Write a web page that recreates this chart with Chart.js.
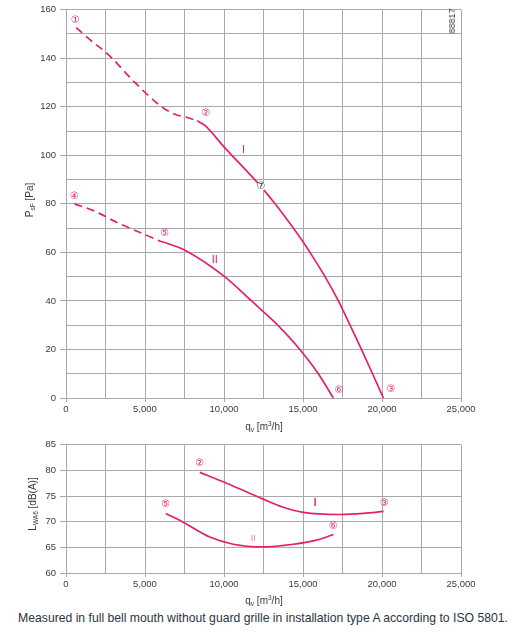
<!DOCTYPE html>
<html>
<head>
<meta charset="utf-8">
<script src="https://cdn.jsdelivr.net/npm/chart.js@4.4.1/dist/chart.umd.min.js"></script>
<style>
  html, body { margin: 0; padding: 0; background: #fff; }
  body { width: 526px; height: 633px; position: relative; overflow: hidden; font-family: "Liberation Sans", Arial, sans-serif; }
  canvas { position: absolute; left: 0; }
  .t { position: absolute; color: #3a3a3a; font-size: 10px; white-space: nowrap; transform: translate(-50%, -50%); }
  .rot { transform: translate(-50%, -50%) rotate(-90deg); }
  sub { font-size: 6.5px; vertical-align: -2px; }
  sup { font-size: 6.5px; vertical-align: 4px; }
  #caption { position: absolute; left: 0; width: 526px; top: 611px; text-align: center; font-size: 12.2px; color: #2c3442; white-space: nowrap; }
</style>
</head>
<body>
<canvas id="top" width="526" height="435" style="top:0"></canvas>
<canvas id="bottom" width="526" height="175" style="top:435px"></canvas>
<div class="t rot" style="left:30px; top:200px">P<sub>sF</sub> [Pa]</div>
<div class="t" style="left:264px; top:426px">q<sub>v</sub> [m<sup>3</sup>/h]</div>
<div class="t rot" style="left:33px; top:504px">L<sub>WA6</sub> [dB(A)]</div>
<div class="t" style="left:264px; top:600px">q<sub>v</sub> [m<sup>3</sup>/h]</div>
<div class="t rot" style="left:452px; top:21px; font-size:9px">88817</div>
<div id="caption">Measured in full bell mouth without guard grille in installation type A according to ISO 5801.</div>
<script>
// ---- data ----
// Pressure curve I (dashed part, then solid part)
const qI_dash  = [650, 1490, 2760, 4030, 5300, 6140, 6890, 7730, 8300];
const pI_dash  = [152.6, 147.8, 141.0, 132.2, 124.1, 119.6, 116.9, 115.5, 114.2];
const qI_solid = [8300, 8790, 10000, 12340, 13235, 14385, 15000, 15440, 16395, 17240, 17980, 18700, 19400, 20090];
const pI_solid = [114.2, 112.3, 103.5, 87.1, 80.0, 70.0, 64.4, 60.0, 50.0, 40.0, 30.0, 20.0, 10.0, 0];
// Pressure curve II
const qII_dash  = [540, 1700, 3395, 5089, 5933, 6250];
const pII_dash  = [80.0, 77.3, 71.8, 67.1, 64.7, 64.1];
const qII_solid = [6250, 7500, 10000, 11745, 12500, 13400, 14800, 15970, 16920];
const pII_solid = [64.1, 61.0, 50.2, 40.0, 35.5, 30.0, 20.0, 10.0, 0];
// Sound power curves
const qLI  = [8470, 10165, 12487, 13756, 15025, 17354, 18832, 20101];
const LI   = [79.6, 77.5, 74.4, 72.8, 71.8, 71.4, 71.6, 72.0];
const qLII = [6313, 7412, 9105, 10584, 12487, 14390, 15870, 16925];
const LII  = [71.6, 69.9, 67.0, 65.6, 65.1, 65.6, 66.4, 67.5];
// Tick labels
const qTickLabels   = ['0', '5,000', '10,000', '15,000', '20,000', '25,000'];
const pTickLabels   = ['0', '20', '40', '60', '80', '100', '120', '140', '160'];
const lTickLabels   = ['60', '65', '70', '75', '80', '85'];
// Point markers (data coordinates)
const topMarkText = ['①', '②', '③', '④', '⑤', '⑥'];
const topMarkQ    = [603, 8852, 20570, 540, 6250, 17290];
const topMarkP    = [155.7, 117.4, 3.7, 83.1, 67.8, 3.1];
const opPoint     = { q: 12340, p: 87.1, text: '⑦' };
const topCurveNames = ['I', 'II'];
const topCurveNameQ = [11230, 9420];
const topCurveNameP = [102.2, 57.0];
const botMarkText = ['②', '③', '⑤', '⑥'];
const botMarkQ    = [8470, 20160, 6313, 16925];
const botMarkL    = [81.4, 73.6, 73.4, 69.1];
const botCurveNames = ['I', 'II'];
const botCurveNameQ = [15762, 11850];
const botCurveNameL = [73.5, 66.8];

// ---- styling ----
const PINK = '#e4206f';
const GRID = '#a9a9a9';
const TICKC = '#3a3a3a';
const FONT = "'Liberation Sans', Arial, sans-serif";

const pts = (xs, ys) => xs.map((x, i) => ({ x, y: ys[i] }));

const labelPlugin = {
  id: 'curveLabels',
  afterDatasetsDraw(chart, args, opts) {
    const { ctx } = chart;
    const xs = chart.scales.x, ys = chart.scales.y;
    ctx.save();
    ctx.textAlign = 'center';
    ctx.textBaseline = 'middle';
    for (const it of opts.items || []) {
      const px = xs.getPixelForValue(it.x), py = ys.getPixelForValue(it.y);
      if (it.bg) {
        ctx.fillStyle = '#fff';
        ctx.beginPath(); ctx.arc(px, py, 4.6, 0, Math.PI * 2); ctx.fill();
      }
      ctx.fillStyle = it.color;
      ctx.font = it.font;
      ctx.fillText(it.text, px, py);
    }
    ctx.restore();
  }
};

function lineDs(data, dashed) {
  return {
    data, borderColor: PINK, borderWidth: 1.7, pointRadius: 0, fill: false,
    cubicInterpolationMode: 'monotone', borderDash: dashed ? [8, 5] : [],
    borderCapStyle: 'butt'
  };
}

function xScale() {
  return {
    type: 'linear', min: 0, max: 25000,
    afterFit(s) { s.height = 37; },
    afterBuildTicks(s) { s.ticks = []; for (let v = 0; v <= 25000; v += 2500) s.ticks.push({ value: v }); },
    ticks: {
      autoSkip: false, maxRotation: 0, padding: 2, color: TICKC,
      font: { family: FONT, size: 9.5 },
      callback: (v) => (v % 5000 === 0 ? qTickLabels[v / 5000] : '')
    },
    grid: {
      color: GRID, lineWidth: 1, tickLength: 4,
      tickColor: (c) => (c.tick && c.tick.value % 5000 === 0 ? GRID : 'rgba(0,0,0,0)')
    },
    border: { color: GRID }
  };
}

function yScale(min, max, step, labelStep, labels) {
  return {
    type: 'linear', min, max,
    afterFit(s) { s.width = 66; },
    afterBuildTicks(s) { s.ticks = []; for (let v = min; v <= max; v += step) s.ticks.push({ value: v }); },
    ticks: {
      autoSkip: false, padding: 4, color: TICKC,
      font: { family: FONT, size: 9.5 },
      callback: (v) => ((v - min) % labelStep === 0 ? labels[(v - min) / labelStep] : '')
    },
    grid: {
      color: GRID, lineWidth: 1, tickLength: 6,
      tickColor: (c) => (c.tick && (c.tick.value - min) % labelStep === 0 ? GRID : 'rgba(0,0,0,0)')
    },
    border: { color: GRID }
  };
}

const circFont = "10px 'DejaVu Sans', sans-serif";
const topItems = topMarkText.map((t, i) => ({ text: t, x: topMarkQ[i], y: topMarkP[i], color: PINK, font: circFont }))
  .concat([{ text: opPoint.text, x: opPoint.q, y: opPoint.p, color: '#333', font: circFont, bg: true }])
  .concat(topCurveNames.map((t, i) => ({ text: t, x: topCurveNameQ[i], y: topCurveNameP[i], color: PINK, font: "11px " + FONT })));
const botItems = botMarkText.map((t, i) => ({ text: t, x: botMarkQ[i], y: botMarkL[i], color: PINK, font: circFont }))
  .concat(botCurveNames.map((t, i) => ({ text: t, x: botCurveNameQ[i], y: botCurveNameL[i], color: i === 0 ? PINK : '#ee7aa6', font: (i === 0 ? "bold 10px " : "9px ") + FONT })));

new Chart(document.getElementById('top'), {
  type: 'line',
  data: {
    datasets: [
      lineDs(pts(qI_dash, pI_dash), true),
      lineDs(pts(qI_solid, pI_solid), false),
      lineDs(pts(qII_dash, pII_dash), true),
      lineDs(pts(qII_solid, pII_solid), false)
    ]
  },
  options: {
    responsive: false, animation: false, devicePixelRatio: 1,
    layout: { padding: { top: 5, right: 65, left: 0, bottom: 0 } },
    plugins: { legend: { display: false }, tooltip: { enabled: false }, curveLabels: { items: topItems } },
    scales: { x: xScale(), y: yScale(0, 160, 10, 20, pTickLabels) }
  },
  plugins: [labelPlugin]
});

new Chart(document.getElementById('bottom'), {
  type: 'line',
  data: {
    datasets: [
      lineDs(pts(qLI, LI), false),
      lineDs(pts(qLII, LII), false)
    ]
  },
  options: {
    responsive: false, animation: false, devicePixelRatio: 1,
    layout: { padding: { top: 8, right: 65, left: 0, bottom: 0 } },
    plugins: { legend: { display: false }, tooltip: { enabled: false }, curveLabels: { items: botItems } },
    scales: { x: xScale(), y: yScale(60, 85, 5, 5, lTickLabels) }
  },
  plugins: [labelPlugin]
});
</script>
</body>
</html>
